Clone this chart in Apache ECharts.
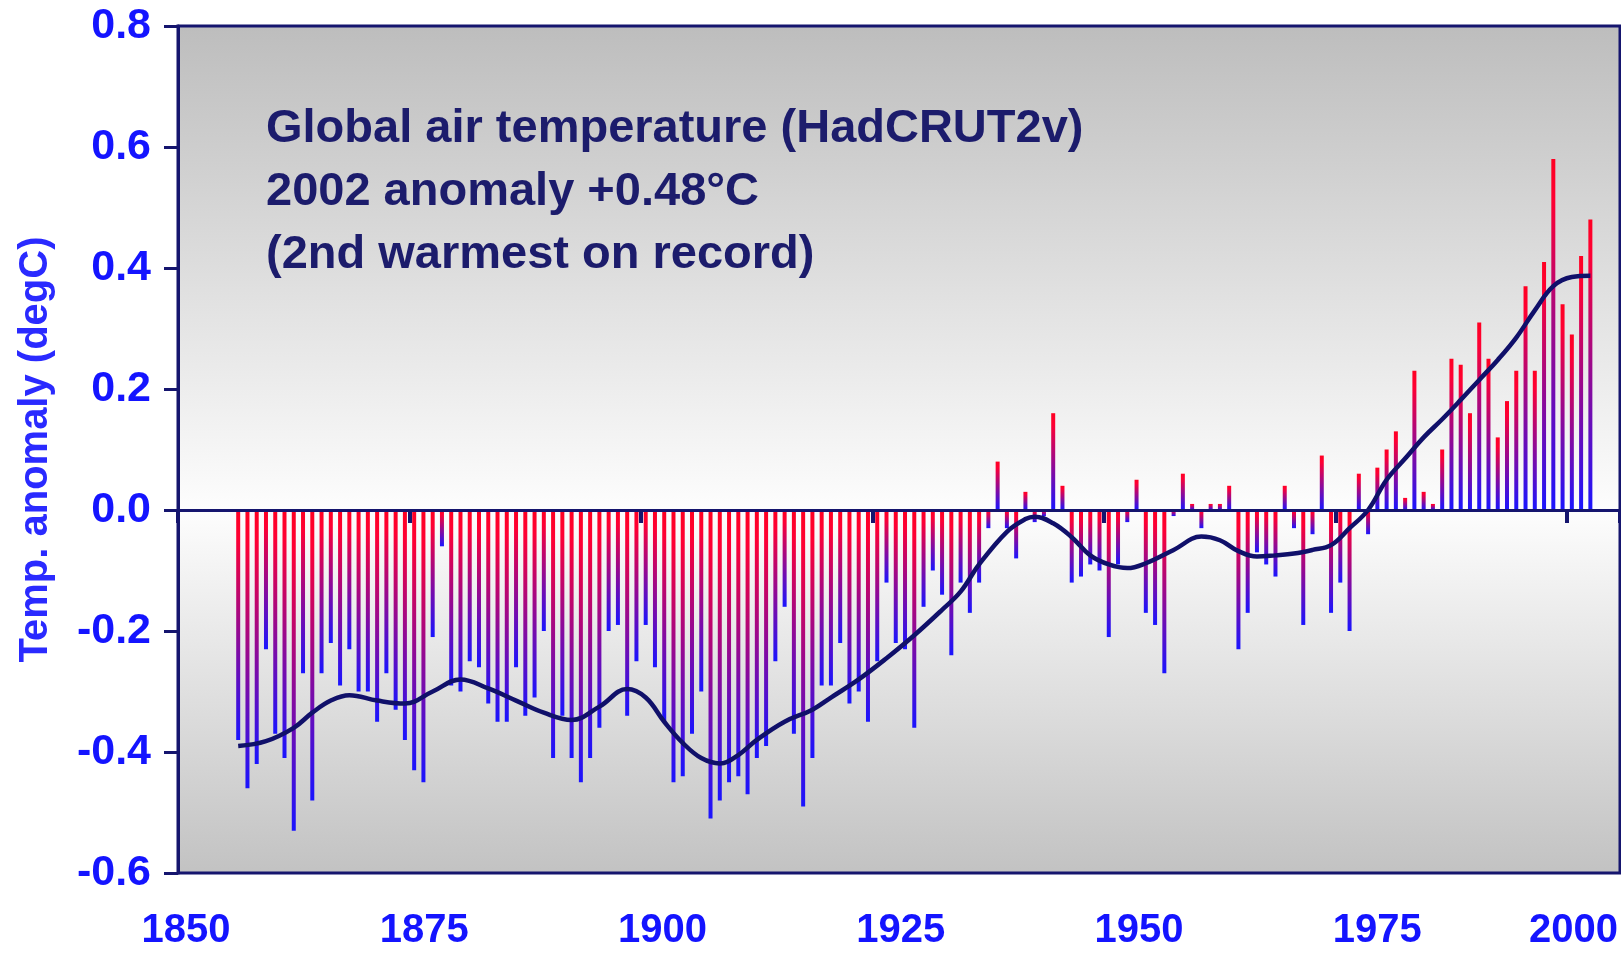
<!DOCTYPE html>
<html><head><meta charset="utf-8">
<script src="https://cdn.jsdelivr.net/npm/echarts@6/dist/echarts.min.js"></script>
<style>html,body{margin:0;padding:0;background:#fff}#c{width:1621px;height:955px}</style>
</head><body><div id="c"></div>
<script>
// ---------------- data ----------------
const firstYear = 1856;
const anomalies = [
  -0.38,-0.46,-0.42,-0.23,                               // 1856-1859
  -0.37,-0.41,-0.53,-0.27,-0.48,-0.27,-0.22,-0.29,-0.23,-0.30, // 1860s
  -0.30,-0.35,-0.27,-0.33,-0.38,-0.43,-0.45,-0.21,-0.06,-0.29, // 1870s
  -0.30,-0.25,-0.26,-0.32,-0.35,-0.35,-0.26,-0.34,-0.31,-0.20, // 1880s
  -0.41,-0.34,-0.41,-0.45,-0.41,-0.36,-0.20,-0.19,-0.34,-0.25, // 1890s
  -0.19,-0.26,-0.35,-0.45,-0.44,-0.37,-0.30,-0.51,-0.48,-0.45, // 1900s
  -0.44,-0.47,-0.41,-0.39,-0.25,-0.16,-0.37,-0.49,-0.41,-0.29, // 1910s
  -0.29,-0.22,-0.32,-0.30,-0.35,-0.25,-0.12,-0.22,-0.23,-0.36, // 1920s
  -0.16,-0.10,-0.14,-0.24,-0.12,-0.17,-0.12,-0.03, 0.08,-0.03, // 1930s
  -0.08, 0.03,-0.02,-0.01, 0.16, 0.04,-0.12,-0.11,-0.09,-0.10, // 1940s
  -0.21,-0.09,-0.02, 0.05,-0.17,-0.19,-0.27,-0.01, 0.06, 0.01, // 1950s
  -0.03, 0.01, 0.01, 0.04,-0.23,-0.17,-0.07,-0.09,-0.11, 0.04, // 1960s
  -0.03,-0.19,-0.04, 0.09,-0.17,-0.12,-0.20, 0.06,-0.04, 0.07, // 1970s
   0.10, 0.13, 0.02, 0.23, 0.03, 0.01, 0.10, 0.25, 0.24, 0.16, // 1980s
   0.31, 0.25, 0.12, 0.18, 0.23, 0.37, 0.23, 0.41, 0.58, 0.34, // 1990s
   0.29, 0.42, 0.48                                       // 2000-2002
];
const smoothYears = [1856,1859,1862,1864,1866,1868,1871,1874,1877,1880,1883,1886,1889,1892,1895,1898,1900,1902,1904,1906,1908,1910,1912,1915,1918,1920,1923,1926,1929,1932,1934,1936,1939,1941,1942,1944,1946,1948,1950,1952,1954,1957,1960,1962,1964,1966,1968,1970,1972,1974,1976,1978,1980,1982,1984,1986,1988,1990,1992,1994,1996,1998,2000,2002];
const smoothValues = [-0.39,-0.382,-0.36,-0.335,-0.315,-0.306,-0.315,-0.32,-0.30,-0.28,-0.295,-0.315,-0.335,-0.347,-0.325,-0.296,-0.31,-0.35,-0.385,-0.41,-0.419,-0.405,-0.38,-0.35,-0.33,-0.31,-0.28,-0.245,-0.207,-0.165,-0.135,-0.09,-0.036,-0.015,-0.011,-0.022,-0.045,-0.075,-0.09,-0.096,-0.088,-0.066,-0.044,-0.05,-0.068,-0.077,-0.075,-0.072,-0.066,-0.058,-0.03,0.0,0.05,0.085,0.12,0.15,0.182,0.215,0.248,0.285,0.33,0.37,0.385,0.387];
const yTickLabels = ['-0.6','-0.4','-0.2','0.0','0.2','0.4','0.6','0.8'];
const xTickLabels = ['1850','1875','1900','1925','1950','1975','2000'];
const titleLines = ['Global air temperature (HadCRUT2v)','2002 anomaly +0.48°C','(2nd warmest on record)'];
const yAxisTitle = 'Temp. anomaly (degC)';

// ---------------- chart ----------------
const NAVY = '#15156e';
const FONT = '"Liberation Sans", Arial, Helvetica, sans-serif';
const LABEL_BLUE = '#1414ff';
const chart = echarts.init(document.getElementById('c'), null, {renderer: 'canvas'});
const barData = anomalies.map((v, i) => [firstYear + i + 0.5, v]);
const lineData = smoothYears.map((y, i) => [y + 0.5, smoothValues[i]]);

const option = {
  animation: false,
  backgroundColor: '#ffffff',
  title: {
    text: titleLines.join('\n'),
    left: 261, top: 93,
    textStyle: {fontFamily: FONT, fontWeight: 'bold', fontSize: 47, lineHeight: 63, color: '#1c1c6c'}
  },
  grid: [
    {left: 178, right: 1, top: 26, bottom: 82, show: true, borderColor: NAVY, borderWidth: 3,
     backgroundColor: {type: 'linear', x: 0, y: 0, x2: 0, y2: 1, colorStops: [
       {offset: 0, color: '#bdbdbd'}, {offset: 0.571, color: '#fdfdfd'}, {offset: 1, color: '#c2c2c2'}]}},
    {left: 186, width: 1442.4, top: 26, bottom: 82, show: false}
  ],
  xAxis: [
    {type: 'value', gridIndex: 0, min: 1850, max: 2005.7, interval: 25, z: 10,
     axisLine: {onZero: true, lineStyle: {color: NAVY, width: 3}},
     axisTick: {show: true, length: 13, lineStyle: {color: NAVY, width: 4}},
     axisLabel: {show: false}, splitLine: {show: false}},
    {type: 'value', gridIndex: 1, min: 1850, max: 2000, interval: 25,
     axisLine: {show: false}, axisTick: {show: false}, splitLine: {show: false},
     axisLabel: {
       margin: 38, fontFamily: FONT, fontWeight: 'bold', fontSize: 40, color: LABEL_BLUE,
       formatter: function (v) {
         const idx = Math.round((v - 1850) / 25);
         const s = xTickLabels[idx];
         return idx === xTickLabels.length - 1 ? '{last|' + s + '}' : s;
       },
       rich: {last: {fontFamily: FONT, fontWeight: 'bold', fontSize: 40, color: LABEL_BLUE, padding: [0, 84, 0, 0]}}
     }}
  ],
  yAxis: [
    {type: 'value', gridIndex: 0, min: -0.6, max: 0.8, interval: 0.2,
     axisLine: {show: true, onZero: false, lineStyle: {color: NAVY, width: 3}},
     axisTick: {show: true, length: 14, lineStyle: {color: NAVY, width: 3}},
     splitLine: {show: false},
     axisLabel: {margin: 27, fontFamily: FONT, fontWeight: 'bold', fontSize: 43, color: LABEL_BLUE,
       formatter: function (v) { return yTickLabels[Math.round((v + 0.6) / 0.2)]; }},
     name: yAxisTitle, nameLocation: 'middle', nameGap: 122, nameRotate: 90,
     nameTextStyle: {fontFamily: FONT, fontWeight: 'bold', fontSize: 40, color: '#2a2aff'}},
    {type: 'value', gridIndex: 1, show: false, min: 0, max: 1}
  ],
  series: [
    {type: 'bar', xAxisIndex: 0, yAxisIndex: 0, data: barData, barWidth: 4, z: 2,
     itemStyle: {color: {type: 'linear', x: 0, y: 0, x2: 0, y2: 1, colorStops: [
       {offset: 0, color: '#ff0022'}, {offset: 0.12, color: '#ff0033'}, {offset: 1, color: '#1a14ff'}]}}},
    {type: 'line', xAxisIndex: 0, yAxisIndex: 0, data: lineData, smooth: 0.4,
     symbol: 'none', z: 3, lineStyle: {color: '#10106a', width: 4.5}}
  ]
};
chart.setOption(option);
</script>
</body></html>
